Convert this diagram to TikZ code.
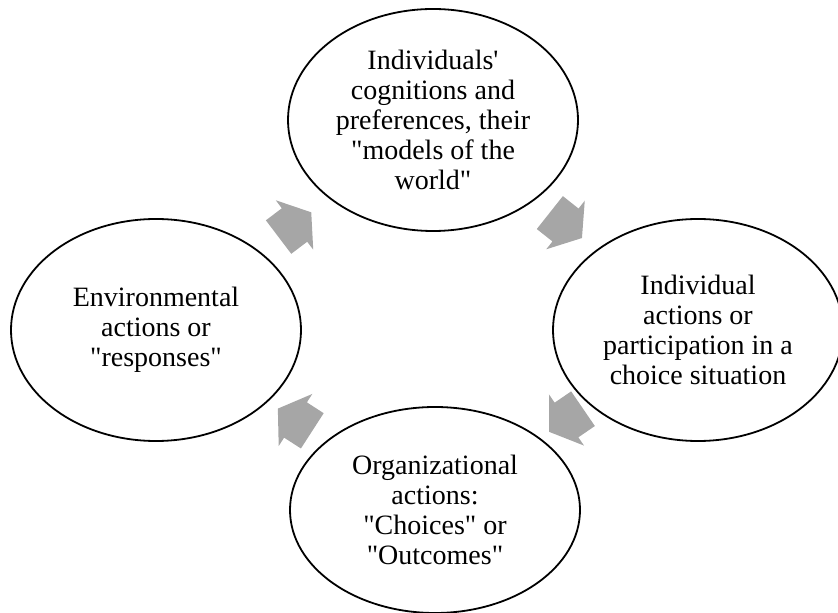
\documentclass[tikz,border=0pt]{standalone}
\usepackage{fontspec}
\setmainfont{Liberation Serif}[Ligatures=TeXOff]
\usetikzlibrary{shapes.geometric, calc}
\definecolor{arrowgray}{RGB}{166,166,166}
\tikzset{
  stage/.style={ellipse, draw, line width=1.8pt, minimum width=290pt,
    minimum height=222pt, inner sep=0pt, align=center,
    font=\fontsize{28}{30}\selectfont},
  pics/blockarrow/.style={code={
    \fill[arrowgray] (-20,-21)--(0,-21)--(0,-31)--(21,0)--(0,31)--(0,21)--(-20,21)--cycle;
  }}
}

\begin{document}
\begin{tikzpicture}[x=1pt, y=1pt]
\useasboundingbox (0,0) rectangle (838,613);
\node[stage] (cog) at (433,493) {Individuals'\\cognitions and\\preferences, their\\"models of the\\world"};
\node[stage] (env) at (156,283) {Environmental\\actions or\\"responses"};
\node[stage] (ind) at (698,283) {Individual\\actions or\\participation in a\\choice situation};
\node[stage, minimum height=206pt] (org) at (435,103) {Organizational\\actions:\\"Choices" or\\"Outcomes"};
% block arrows halfway between the stages
\foreach \a/\b in {env/cog, cog/ind, ind/org, org/env}{
  \path let \p1=($(\b)-(\a)$), \n1={atan2(\y1,\x1)} in
    ($(\a)!0.5!(\b)$) pic[rotate=\n1] {blockarrow};
}
\end{tikzpicture}
\end{document}
